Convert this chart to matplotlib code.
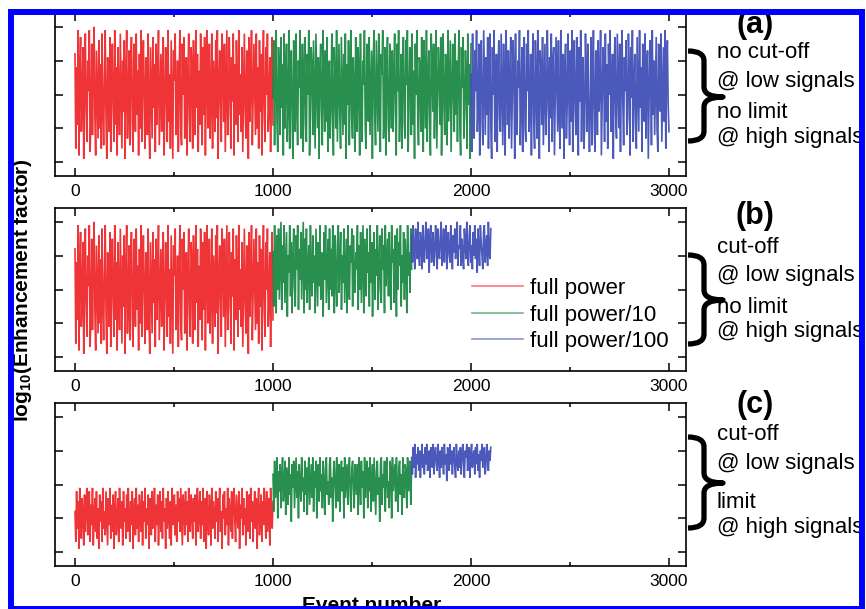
import numpy as np
import matplotlib
matplotlib.use("Agg")
import matplotlib.pyplot as plt
from matplotlib.path import Path
from matplotlib.patches import PathPatch, Rectangle
from matplotlib.lines import Line2D
from matplotlib.ticker import MultipleLocator

plt.rcParams['font.family'] = ['Liberation Sans', 'DejaVu Sans']
plt.rcParams['mathtext.fontset'] = 'custom'
plt.rcParams['mathtext.rm'] = 'Liberation Sans'
plt.rcParams['mathtext.bf'] = 'Liberation Sans:bold'

# ---------------- data (log10 enhancement factor, arbitrary decades) -------------
red_full = [3.2, 0.4, 2.8, 1.1, 3.9, 0.2, 2.5, 3.7, 0.9, 1.8, 3.4, 0.1, 2.2, 3.8, 1.5, 0.6, 3.0, 2.1, 3.9, 0.3,
            1.2, 3.5, 0.8, 2.7, 4.0, 1.4, 0.2, 3.3, 2.0, 0.7, 3.6, 1.0, 2.9, 0.4, 3.8, 1.7, 0.5, 2.4, 3.9, 1.3,
            0.1, 3.1, 2.6, 0.9, 3.7, 0.3, 2.3, 3.5, 1.6, 0.6, 3.9, 1.1, 2.8, 0.2, 3.4, 1.9, 0.8, 3.8, 2.2, 0.4,
            3.0, 1.5, 3.6, 0.1, 2.5, 3.9, 0.7, 1.8, 3.3, 0.5, 2.9, 3.7, 1.2, 0.3, 3.5, 2.0, 0.9, 3.8, 1.4, 2.7,
            0.2, 3.2, 1.0, 3.9, 0.6, 2.4, 3.6, 1.7, 0.4, 3.1, 2.6, 0.8, 3.8, 1.3, 0.1, 3.4, 2.1, 0.7, 3.7, 1.6,
            2.9, 0.3, 3.5, 1.1, 2.3, 3.9, 0.5, 1.9, 3.2, 0.9, 2.8, 3.7, 0.2, 1.5, 3.4, 2.2, 0.6, 3.9, 1.2, 2.6,
            0.4, 3.6, 1.8, 0.1, 3.3, 2.4, 3.8, 0.8, 1.4, 3.0, 0.3, 2.7, 3.9, 1.0, 0.5, 3.5, 2.0, 3.7, 0.7, 1.6,
            3.1, 0.2, 2.5, 3.8, 1.3, 0.6, 3.4, 2.9, 0.4, 3.6,
            2.3, 0.8, 3.9, 1.6, 3.2, 0.3, 2.7, 1.1, 3.8, 2.0, 0.5, 3.4, 1.4, 3.7, 0.2, 2.6, 3.9, 1.0, 2.1, 3.5,
            0.7, 1.9, 3.8, 0.4, 3.0, 2.4, 0.9, 3.6, 1.3, 3.9, 0.1, 2.2, 3.3, 1.7, 0.6, 3.8, 2.8, 1.2, 3.5, 0.3,
            2.0, 3.9, 0.8, 1.5, 3.7, 2.5, 0.4, 3.1, 1.8, 3.8, 0.2, 2.9, 1.1, 3.6, 2.3, 0.6, 3.9, 1.4, 2.6, 0.9,
            3.4, 0.3, 2.1, 3.8, 1.6, 0.7, 3.3, 2.7, 0.1, 3.7, 1.2, 2.4, 3.9, 0.5, 1.9, 3.5, 2.2, 0.8, 3.8, 1.0,
            2.8, 0.4, 3.6, 1.5, 3.2, 0.2, 2.5, 3.9, 1.3, 0.6, 3.4, 2.0, 3.8, 0.9, 1.7, 3.1, 0.3, 2.6, 3.7, 1.1]

green_full = [1.9, 3.6, 0.5, 2.8, 3.9, 1.2, 0.3, 3.4, 2.3, 0.8, 3.7, 1.6, 2.9, 0.2, 3.8, 1.0, 2.5, 3.5, 0.6, 1.8,
              3.9, 0.4, 2.1, 3.3, 1.4, 0.1, 3.6, 2.7, 0.9, 3.8, 1.7, 0.5, 3.0, 2.2, 3.9, 0.7, 1.3, 3.5, 0.3, 2.6,
              3.7, 1.1, 0.6, 3.2, 2.0, 3.9, 0.2, 1.5, 3.4, 2.8, 0.8, 3.6, 1.9, 0.4, 3.8, 2.4, 1.0, 3.1, 0.1, 2.7,
              3.5, 1.6, 0.5, 3.9, 2.2, 0.9, 3.3, 1.2, 3.7, 0.3, 2.5, 3.0, 0.7, 1.8, 3.8, 1.4, 0.2, 3.4, 2.6, 1.0,
              3.9, 0.6, 2.0, 3.5, 1.5, 0.4, 3.7, 2.3, 0.8, 3.2, 1.1, 3.8, 0.1, 2.9, 1.7, 3.6, 0.5, 2.4, 3.9, 1.3,
              0.7, 3.1, 2.1, 0.3, 3.7, 1.9, 0.9, 3.4, 2.7, 0.2, 3.8, 1.6, 0.6, 3.0, 2.3, 3.9, 1.0, 0.4, 3.5, 2.5,
              1.2, 3.7, 0.8, 2.0, 3.3, 0.1, 2.8, 3.9, 1.4, 0.5, 3.6, 2.2, 0.9, 3.8, 1.7, 0.3, 3.2, 2.6, 3.9, 0.7,
              1.5, 3.4, 0.2, 2.9, 3.7, 1.1, 0.6, 3.5, 2.4, 1.0,
              3.3, 0.9, 2.6, 3.8, 1.5, 0.2, 3.5, 2.1, 3.9, 0.6, 1.8, 3.2, 0.4, 2.9, 3.7, 1.2, 0.7, 3.6, 2.3, 3.9,
              0.3, 1.6, 3.4, 2.5, 0.8, 3.8, 1.1, 2.7, 0.1, 3.5, 2.0, 3.9, 1.4, 0.5, 3.1, 2.8, 0.9, 3.7, 1.7, 0.3,
              3.6, 2.2, 1.0, 3.9, 0.6, 2.5, 3.3, 1.3, 0.2, 3.8, 2.9, 1.5, 3.5, 0.7, 2.1, 3.9, 0.4, 1.9, 3.4, 2.6,
              1.1, 3.7, 0.2, 2.3, 3.8, 1.6, 0.8, 3.2, 2.7, 0.5, 3.9, 1.2, 2.4, 3.6, 0.3, 1.8, 3.5, 2.0, 0.9, 3.8,
              1.4, 3.0, 0.6, 2.8, 3.9, 1.0, 0.2, 3.4, 2.2, 3.7, 0.7, 1.5, 3.3, 2.5, 0.4, 3.8, 1.7, 2.9, 0.1, 3.5]

blue_full = [2.6, 0.3, 3.8, 1.5, 0.7, 3.3, 2.1, 3.9, 0.9, 1.7, 3.5, 0.2, 2.8, 3.6, 1.2, 0.5, 3.9, 2.3, 0.8, 3.1,
             1.4, 3.7, 0.4, 2.5, 3.8, 1.0, 0.1, 3.4, 2.0, 3.9, 0.6, 1.8, 3.2, 0.3, 2.7, 3.6, 1.3, 0.9, 3.8, 2.2,
             0.5, 3.5, 1.6, 0.2, 3.9, 2.9, 1.1, 3.3, 0.7, 2.4, 3.7, 0.4, 1.9, 3.6, 2.6, 0.1, 3.8, 1.4, 0.8, 3.0,
             2.2, 3.9, 0.5, 1.7, 3.4, 0.3, 2.8, 3.7, 1.0, 0.6, 3.5, 2.1, 3.9, 0.9, 1.5, 3.2, 0.2, 2.5, 3.8, 1.2,
             0.4, 3.6, 2.3, 0.7, 3.9, 1.8, 0.1, 3.3, 2.7, 1.1, 3.7, 0.5, 2.0, 3.5, 0.8, 1.6, 3.9, 2.4, 0.3, 3.1,
             1.3, 3.8, 0.6, 2.9, 3.4, 0.2, 1.9, 3.7, 2.2, 0.9, 3.6, 1.4, 0.4, 3.9, 2.6, 1.0, 3.2, 0.1, 2.8, 3.5,
             0.7, 1.7, 3.8, 2.0, 0.5, 3.3, 1.2, 3.9, 0.3, 2.4, 3.6, 1.5, 0.8, 3.7, 2.1, 0.2, 3.4, 1.8, 3.9, 0.6,
             2.7, 3.1, 0.4, 1.1, 3.8, 2.5, 0.9, 3.5, 1.6, 0.3,
             1.8, 3.7, 0.5, 2.4, 3.9, 1.1, 0.3, 3.3, 2.8, 0.8, 3.6, 1.5, 2.2, 3.9, 0.2, 1.9, 3.4, 2.6, 0.6, 3.8,
             1.2, 2.9, 0.4, 3.5, 2.0, 3.9, 0.9, 1.6, 3.2, 0.1, 2.7, 3.7, 1.4, 0.7, 3.8, 2.3, 1.0, 3.5, 0.3, 2.5,
             3.9, 1.7, 0.5, 3.1, 2.1, 3.6, 0.8, 1.3, 3.8, 2.7, 0.2, 3.4, 1.9, 3.9, 0.6, 2.4, 3.2, 1.1, 0.4, 3.7,
             2.2, 0.9, 3.9, 1.6, 2.8, 0.3, 3.5, 2.0, 1.2, 3.8, 0.7, 2.6, 3.3, 0.1, 1.8, 3.6, 2.4, 0.5, 3.9, 1.4,
             3.0, 0.8, 2.3, 3.7, 1.0, 0.3, 3.5, 2.9, 1.5, 3.8, 0.6, 2.1, 3.4, 1.2, 3.9, 0.4, 2.7, 3.6, 1.7, 0.9]

green_cut = [3.1, 1.5, 3.9, 2.4, 1.3, 3.6, 2.0, 3.8, 1.7, 2.9, 4.0, 1.4, 3.3, 2.2, 3.9, 1.6, 2.7, 3.7, 1.2, 3.0,
             2.5, 3.9, 1.8, 3.4, 1.3, 2.8, 3.8, 2.1, 1.5, 3.6, 2.6, 3.9, 1.4, 3.2, 2.3, 3.7, 1.7, 2.9, 4.0, 1.3,
             3.5, 2.0, 3.8, 1.6, 2.7, 3.3, 1.4, 3.9, 2.4, 1.8, 3.6, 2.2, 3.0, 1.3, 3.8, 2.6, 1.5, 3.4, 2.1, 3.9,
             1.7, 3.1, 2.8, 1.2, 3.7, 2.3, 3.9, 1.6, 2.5, 3.5, 1.4, 3.8, 2.0, 3.2, 1.8, 3.9, 2.7, 1.3, 3.6, 2.4,
             1.5, 3.4, 3.9, 1.9, 2.9, 3.7, 1.4, 3.0, 2.2, 3.8, 1.6, 2.6, 3.5, 1.3, 3.9, 2.1, 1.7, 3.3, 2.8, 3.8,
             1.5, 3.6, 2.4, 1.9, 3.1,
             2.6, 3.9, 1.4, 3.3, 2.0, 3.7, 1.6, 2.8, 3.9, 1.3, 3.5, 2.3, 1.8, 3.8, 2.5, 3.1, 1.5, 3.9, 2.2, 3.4,
             1.2, 2.9, 3.7, 1.7, 3.2, 2.4, 3.9, 1.4, 2.7, 3.6, 2.0, 1.6, 3.8, 2.6, 3.3, 1.3, 3.9, 2.1, 2.9, 3.5,
             1.8, 3.7, 2.3, 1.4, 3.9, 2.8, 3.2, 1.6, 3.6, 2.5, 1.2, 3.8, 2.0, 3.4, 2.7, 3.9, 1.5, 3.0, 2.2, 3.7,
             1.7, 3.5, 2.9, 1.3, 3.9, 2.4, 3.1, 1.9, 3.8, 2.6]

blue_cut = [3.6, 2.8, 3.9, 3.1, 2.6, 3.8, 3.3, 2.9, 4.0, 3.0, 2.7, 3.7, 3.4, 2.6, 3.9, 3.2, 2.8, 3.6, 4.0, 2.9,
            3.1, 3.8, 2.5, 3.5, 3.9, 2.8, 3.3, 3.7, 2.7, 3.0, 3.9, 3.4, 2.6, 3.8, 3.1, 2.9, 3.6, 4.0, 2.7, 3.2,
            3.8, 2.8, 3.5, 3.9, 2.6, 3.3, 3.7, 3.0, 2.8, 3.9, 3.4, 2.6, 3.6, 3.1, 3.8, 2.9, 3.5, 4.0, 2.7, 3.3,
            3.2, 3.9, 2.7, 3.5, 3.0, 2.6, 3.8, 3.4, 2.9, 4.0, 3.1, 2.7, 3.6, 3.9, 2.8, 3.3, 2.6, 3.7, 3.0, 3.9,
            2.9, 3.5, 2.5, 3.8, 3.2, 2.7, 3.9, 3.4, 3.0, 2.6, 3.7, 3.9, 2.8, 3.3, 3.6, 2.7, 4.0, 3.1, 2.9, 3.8]

red_lim = [1.2, 0.3, 1.8, 0.7, 1.5, 0.1, 1.9, 0.9, 0.4, 1.6, 1.1, 0.2, 1.7, 0.6, 1.3, 1.9, 0.5, 1.0, 1.8, 0.3,
           1.4, 0.8, 1.9, 0.2, 1.1, 1.6, 0.6, 1.8, 0.4, 1.3, 0.1, 1.7, 0.9, 1.5, 0.3, 1.9, 0.7, 1.2, 0.5, 1.8,
           1.0, 0.2, 1.6, 0.8, 1.9, 0.4, 1.4, 0.6, 1.7, 0.1, 1.2, 1.8, 0.5, 0.9, 1.6, 0.3, 1.9, 1.1, 0.7, 1.5,
           0.2, 1.8, 0.9, 1.3, 0.4, 1.7, 0.6, 1.9, 1.0, 0.3, 1.5, 0.8, 1.8, 0.1, 1.2, 1.6, 0.5, 1.9, 0.7, 1.4,
           0.3, 1.7, 1.1, 0.6, 1.8, 0.2, 1.5, 0.9, 1.9, 0.4, 1.3, 0.8, 1.7, 0.1, 1.6, 1.0, 0.5, 1.8, 0.7, 1.2,
           1.9, 0.3, 1.4, 0.8, 1.7, 0.2, 1.1, 1.8, 0.6, 1.5, 0.4, 1.9, 0.9, 1.3, 0.1, 1.6, 0.7, 1.8, 1.0, 0.4,
           1.5, 0.2, 1.9, 0.8, 1.2, 1.7, 0.5, 1.4, 0.3, 1.8, 0.9, 1.6, 0.6, 1.9, 1.1, 0.2, 1.7, 1.3, 0.5, 1.8,
           0.8, 1.5, 0.3, 1.9, 1.0, 0.6, 1.7, 1.2, 0.4, 1.6,
           0.9, 1.7, 0.2, 1.4, 1.9, 0.6, 1.1, 1.8, 0.4, 1.5, 0.8, 1.9, 0.3, 1.2, 1.6, 0.1, 1.8, 1.0, 0.5, 1.7,
           1.3, 0.2, 1.9, 0.7, 1.5, 1.1, 0.4, 1.8, 0.9, 1.6, 0.3, 1.4, 1.9, 0.6, 1.2, 0.1, 1.7, 1.0, 1.8, 0.5,
           1.3, 0.8, 1.9, 0.2, 1.6, 1.1, 0.6, 1.8, 0.4, 1.5, 1.9, 0.9, 0.3, 1.7, 1.2, 0.7, 1.8, 0.1, 1.4, 1.0,
           1.9, 0.5, 1.6, 0.8, 1.3, 0.2, 1.8, 1.1, 0.6, 1.7, 0.4, 1.9, 0.9, 1.5, 0.3, 1.2, 1.8, 0.7, 1.6, 0.1,
           1.4, 1.9, 0.5, 1.0, 1.7, 0.3, 1.5, 0.8, 1.9, 1.2, 0.4, 1.8, 0.6, 1.3, 1.6, 0.2, 1.9, 1.1, 0.7, 1.5]

green_lim = [2.3, 1.2, 2.7, 1.6, 2.0, 2.8, 1.0, 2.4, 1.8, 2.6, 1.3, 2.2, 2.8, 1.5, 1.9, 2.7, 1.1, 2.5, 2.0, 1.4,
             2.8, 1.7, 2.3, 0.9, 2.6, 1.9, 2.7, 1.3, 2.1, 2.8, 1.6, 2.4, 1.0, 2.6, 2.0, 1.5, 2.8, 1.8, 2.2, 1.2,
             2.7, 1.7, 2.5, 1.1, 2.3, 2.8, 1.4, 2.0, 2.6, 1.6, 2.8, 1.2, 2.4, 1.9, 2.7, 1.0, 2.2, 2.6, 1.5, 2.8,
             1.8, 2.3, 1.3, 2.7, 2.0, 1.1, 2.5, 2.8, 1.7, 2.1, 1.4, 2.6, 2.8, 1.6, 2.2, 0.9, 2.4, 2.7, 1.9, 1.3,
             2.8, 2.0, 1.5, 2.6, 1.2, 2.3, 2.7, 1.8, 2.5, 1.0, 2.8, 1.6, 2.1, 2.6, 1.4, 2.4, 2.8, 1.7, 1.2, 2.5,
             2.7, 1.9, 1.3, 2.6, 2.2,
             1.7, 2.6, 1.1, 2.8, 2.2, 1.4, 2.7, 1.9, 2.4, 1.0, 2.8, 1.6, 2.3, 2.7, 1.3, 2.5, 1.8, 2.8, 1.2, 2.1,
             2.6, 1.5, 2.8, 2.0, 1.1, 2.4, 2.7, 1.7, 2.2, 0.9, 2.6, 2.8, 1.4, 2.3, 1.9, 2.7, 1.2, 2.5, 2.8, 1.6,
             2.1, 1.3, 2.7, 2.4, 1.0, 2.8, 1.8, 2.2, 2.6, 1.5, 2.8, 1.9, 1.2, 2.5, 2.7, 1.7, 2.3, 1.1, 2.8, 2.0,
             1.6, 2.6, 2.4, 1.3, 2.8, 1.8, 2.1, 2.7, 1.4, 2.5]

blue_lim = [2.8, 2.3, 3.1, 2.5, 3.2, 2.2, 2.9, 2.6, 3.1, 2.4, 3.0, 2.2, 2.7, 3.2, 2.5, 2.9, 2.3, 3.1, 2.6, 3.2,
            2.4, 2.8, 3.0, 2.2, 3.1, 2.7, 2.5, 3.2, 2.3, 2.9, 3.1, 2.6, 2.4, 3.2, 2.8, 2.2, 3.0, 2.5, 3.1, 2.7,
            2.3, 3.2, 2.6, 2.9, 2.1, 3.1, 2.8, 2.4, 3.2, 2.6, 3.0, 2.3, 2.9, 3.1, 2.5, 2.2, 3.2, 2.7, 2.4, 3.0,
            2.5, 3.1, 2.3, 2.9, 3.2, 2.6, 2.2, 3.0, 2.8, 3.2, 2.4, 2.7, 3.1, 2.2, 2.9, 3.2, 2.5, 2.8, 3.0, 2.3,
            3.1, 2.6, 3.2, 2.4, 2.9, 2.2, 3.0, 2.7, 3.2, 2.5, 2.8, 3.1, 2.3, 2.6, 3.2, 2.9, 2.4, 3.0, 2.7, 3.1]

# event ranges of each measurement block
ranges_a = [(0, 1000), (1000, 2000), (2000, 3000)]
ranges_bc = [(0, 1000), (1000, 1700), (1700, 2100)]

panel_series = [
    [red_full, green_full, blue_full],
    [red_full, green_cut, blue_cut],
    [red_lim, green_lim, blue_lim],
]
panel_ranges = [ranges_a, ranges_bc, ranges_bc]
panel_tags = ['(a)', '(b)', '(c)']
panel_notes = [
    ['no cut-off', '@ low signals', 'no limit', '@ high signals'],
    ['cut-off', '@ low signals', 'no limit', '@ high signals'],
    ['cut-off', '@ low signals', 'limit', '@ high signals'],
]
series_labels = ['full power', 'full power/10', 'full power/100']
xticks = [0, 1000, 2000, 3000]
yticks = [0, 1, 2, 3, 4]

colors = ['#ee2226', '#17863f', '#3c4cb4']

# ---------------- layout (pixels) ----------------
W, H = 866, 609
def fx(px):
    return px / W
def fy(py):
    return 1 - py / H

fig = plt.figure(figsize=(W / 100, H / 100), dpi=100)
fig.patch.set_facecolor('white')

ax_left, ax_right = 55, 686
ax_tops = [13, 208, 403]
ax_h = 163

note_y = [[53, 82, 112, 138], [248, 275, 307, 332], [435, 463, 502, 528]]
tag_y = [25, 216, 405]
brace_y = [(51, 141, 97), (255, 344, 300), (437, 528, 483)]

axes = []
for i in range(3):
    top = ax_tops[i]
    ax = fig.add_axes([fx(ax_left), fy(top + ax_h), fx(ax_right) - fx(ax_left), ax_h / H])
    axes.append(ax)
    for vals, (s, e), c in zip(panel_series[i], panel_ranges[i], colors):
        x = np.linspace(s, e, len(vals))
        ax.plot(x, vals, color=c, lw=1.2, alpha=0.92, solid_joinstyle='miter')
    ax.set_xlim(-101, 3086)
    ax.set_ylim(-0.41, 4.41)
    ax.set_xticks(xticks)
    ax.set_xticklabels([str(t) for t in xticks])
    ax.xaxis.set_minor_locator(MultipleLocator(500))
    ax.set_yticks(yticks)
    ax.set_yticklabels([])
    ax.tick_params(which='both', direction='in', top=True, right=True, width=1.1)
    ax.tick_params(which='major', length=6, labelsize=12.5, pad=6)
    ax.tick_params(which='minor', length=3)
    for sp in ax.spines.values():
        sp.set_linewidth(1.2)

    # panel tag
    fig.text(fx(755), fy(tag_y[i]), panel_tags[i], fontsize=22, fontweight='bold',
             ha='center', va='center')
    # notes
    for t, yy in zip(panel_notes[i], note_y[i]):
        fig.text(fx(717), fy(yy), t, fontsize=16, ha='left', va='center')
    # curly brace
    y0, y1, ym = brace_y[i]
    xl, xs, xt = 688, 704, 723
    r = 10
    pts = [(xl, y0), (xs, y0), (xs, y0 + r), (xs, ym - r), (xs, ym), (xt, ym),
           (xs, ym), (xs, ym + r), (xs, y1 - r), (xs, y1), (xl, y1)]
    codes = [Path.MOVETO, Path.CURVE3, Path.CURVE3, Path.LINETO, Path.CURVE3, Path.CURVE3,
             Path.CURVE3, Path.CURVE3, Path.LINETO, Path.CURVE3, Path.CURVE3]
    path = Path([(fx(a), fy(b)) for a, b in pts], codes)
    fig.add_artist(PathPatch(path, transform=fig.transFigure, fill=False, lw=3.8,
                             edgecolor='black', capstyle='butt', joinstyle='round'))

# legend in panel (b)
handles = [Line2D([], [], color=c, lw=1.2, alpha=0.6) for c in colors]
axes[1].legend(handles, series_labels, loc='center left',
               bbox_to_anchor=(fx(472), fy(315)), bbox_transform=fig.transFigure,
               frameon=False, fontsize=16, handlelength=2.3, handletextpad=0.3,
               labelspacing=0.25, borderpad=0, borderaxespad=0)

# axis titles
fig.text(fx(23), fy(290), 'log$_{\\mathbf{10}}$(Enhancement factor)', rotation=90,
         fontsize=15, fontweight='bold', ha='center', va='center')
fig.text(fx(372), fy(596), 'Event number', fontsize=15, fontweight='bold',
         ha='center', va='top')

# blue frame around the picture
fig.add_artist(Rectangle((fx(11), fy(609)), fx(862) - fx(11), fy(11.5) - fy(609),
                         transform=fig.transFigure, fill=False, edgecolor='#0000ff',
                         lw=4.3, zorder=10))

fig.savefig('out.png', dpi=100)
